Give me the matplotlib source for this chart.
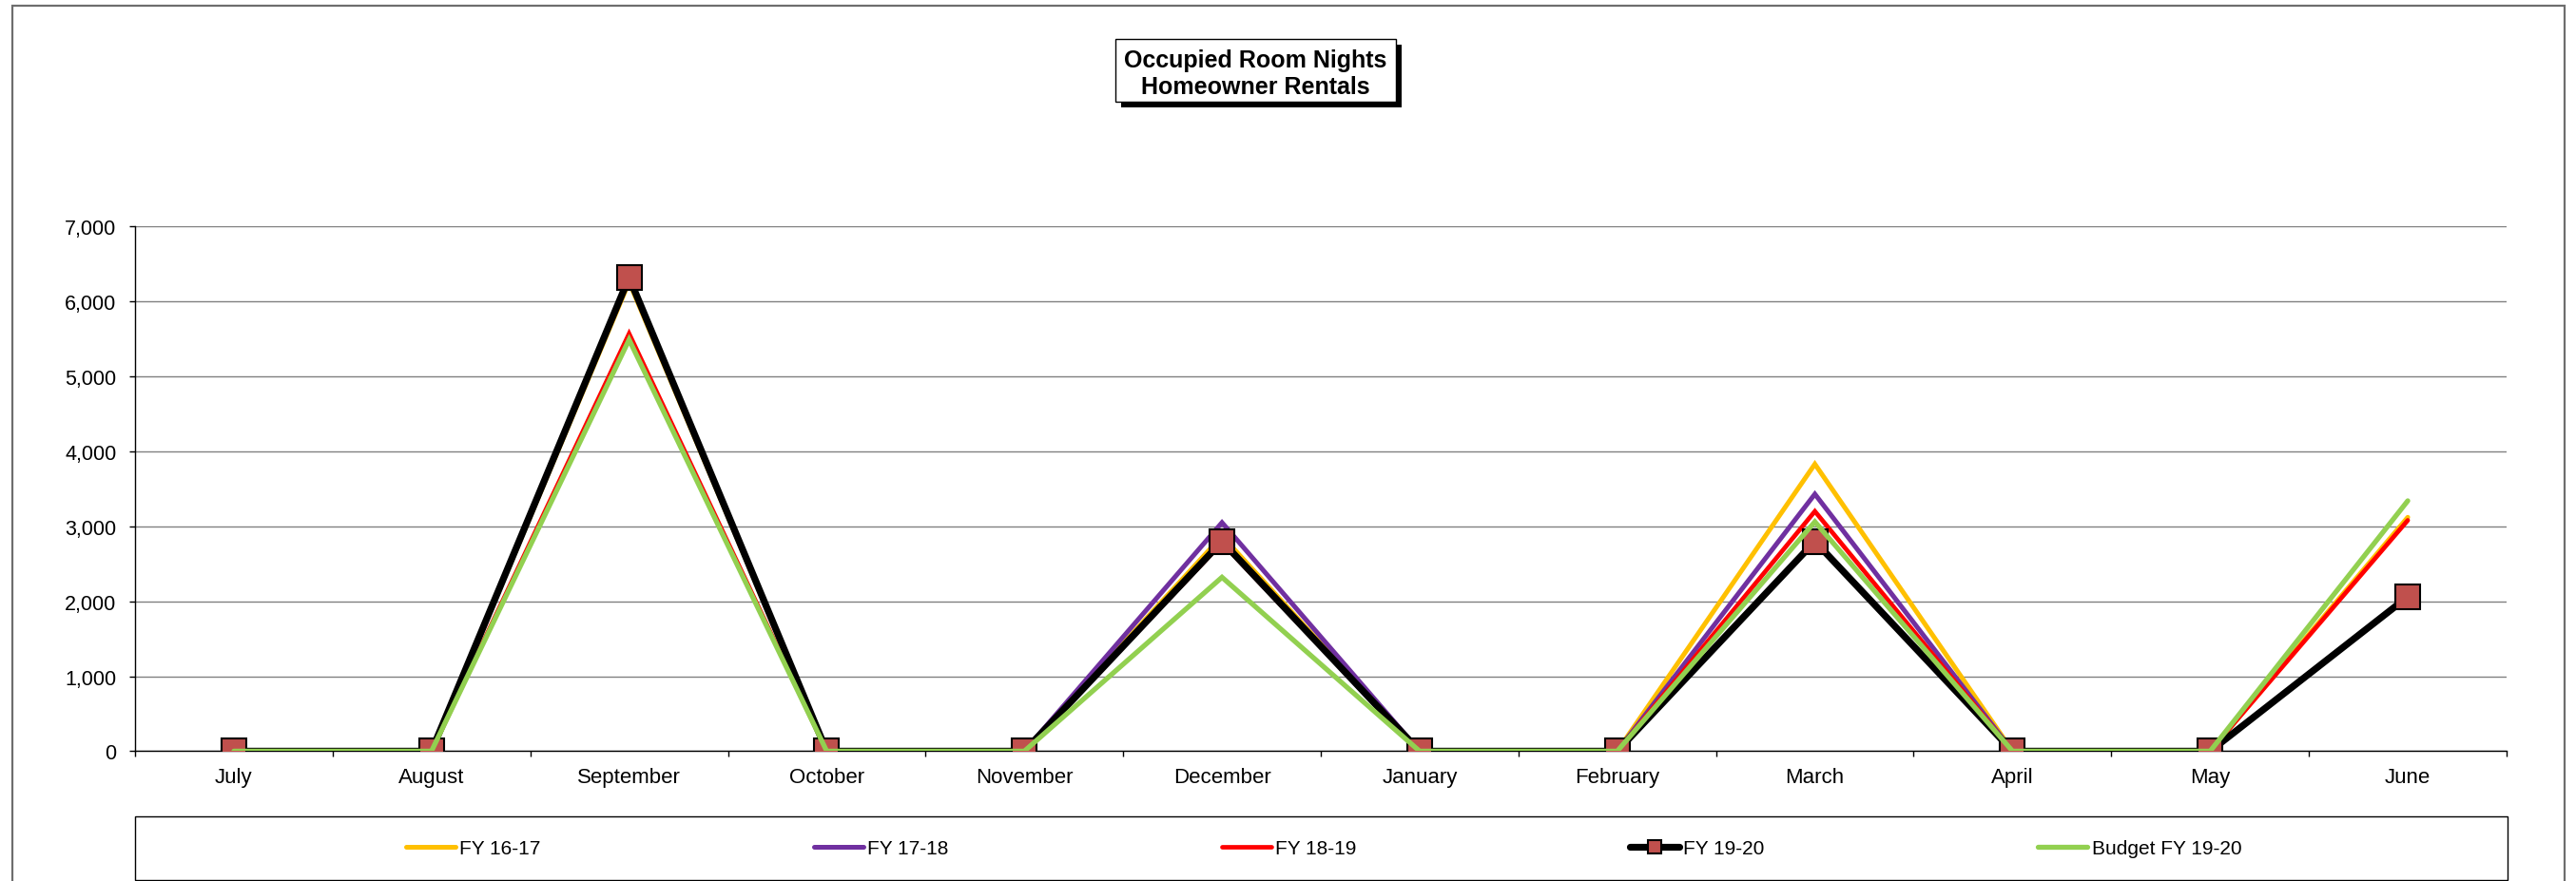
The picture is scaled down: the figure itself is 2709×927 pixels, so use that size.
import matplotlib
matplotlib.use('Agg')
import matplotlib.pyplot as plt
import numpy as np
from matplotlib.patches import Rectangle
from matplotlib.ticker import FuncFormatter, FixedLocator

# ---------------- data ----------------
months = ['July', 'August', 'September', 'October', 'November', 'December',
          'January', 'February', 'March', 'April', 'May', 'June']
fy1617 = [0, 0, 6260, 0, 0, 2870, 0, 0, 3830, 0, 0, 3120]
fy1718 = [0, 0, 6290, 0, 0, 3050, 0, 0, 3430, 0, 0, np.nan]
fy1819 = [0, 0, 5570, 0, 0, 2780, 0, 0, 3200, 0, 0, 3080]
fy1920 = [0, 0, 6320, 0, 0, 2800, 0, 0, 2800, 0, 0, 2060]
budget = [0, 0, 5490, 0, 0, 2320, 0, 0, 3060, 0, 0, 3340]
series_labels = ['FY 16-17', 'FY 17-18', 'FY 18-19', 'FY 19-20', 'Budget FY 19-20']
yticks = [0, 1000, 2000, 3000, 4000, 5000, 6000, 7000]
title_lines = ['Occupied Room Nights', 'Homeowner Rentals']

# ---------------- style ----------------
plt.rcParams['font.family'] = ['Liberation Sans', 'DejaVu Sans']
W, H = 2709, 928
fig = plt.figure(figsize=(W / 100, H / 100), dpi=100)


def fx(px):
    return px / W


def fy(py):
    return 1 - py / H


# outer chart border
fig.patches.append(Rectangle((fx(13), fy(940)), fx(2697) - fx(13), fy(7) - fy(940),
                             transform=fig.transFigure, fill=False,
                             edgecolor='#6e6e6e', linewidth=1.6, zorder=0))

left, right, top, bottom = 142, 2636, 239.3, 791.4
ax = fig.add_axes([fx(left), fy(bottom), fx(right) - fx(left), fy(top) - fy(bottom)])

x = np.arange(len(months)) + 0.5
common = dict(solid_joinstyle='miter', solid_capstyle='round')
ax.plot(x, fy1617, color='#FFC000', lw=3.6, label=series_labels[0], zorder=3, **common)
ax.plot(x, fy1718, color='#7030A0', lw=3.6, label=series_labels[1], zorder=4, **common)
ax.plot(x, fy1819, color='#FF0000', lw=3.4, label=series_labels[2], zorder=5, **common)
ax.plot(x, fy1920, color='black', lw=5.2, marker='s', markersize=18.5,
        markerfacecolor='#C0504D', markeredgecolor='black', markeredgewidth=1.5,
        label=series_labels[3], zorder=6, **common)
ax.plot(x, budget, color='#92D050', lw=3.8, label=series_labels[4], zorder=7, **common)

ax.set_xlim(0, len(months))
ax.set_ylim(0, 7000)
ax.set_yticks(yticks)
ax.yaxis.set_major_formatter(FuncFormatter(lambda v, p: f'{int(v):,}'))
ax.yaxis.grid(True, color='#808080', linewidth=1.0)
ax.set_axisbelow(True)

ax.xaxis.set_major_locator(FixedLocator(np.arange(len(months) + 1)))
ax.xaxis.set_minor_locator(FixedLocator(x))
ax.set_xticklabels([], minor=False)
ax.set_xticklabels(months, minor=True)
ax.tick_params(axis='x', which='major', direction='out', length=4, width=1, color='black')
ax.tick_params(axis='x', which='minor', length=0, pad=12, labelsize=16)
ax.tick_params(axis='y', direction='out', length=4, width=1, pad=10, labelsize=15.5)

for s in ['top', 'right']:
    ax.spines[s].set_visible(False)
for s in ['left', 'bottom']:
    ax.spines[s].set_color('black')
    ax.spines[s].set_linewidth(1.0)

# title box with shadow
fig.patches.append(Rectangle((fx(1179), fy(114)), fx(1474) - fx(1179), fy(48) - fy(114),
                             transform=fig.transFigure, facecolor='black',
                             edgecolor='black', linewidth=0, zorder=1))
fig.patches.append(Rectangle((fx(1173), fy(108)), fx(1468) - fx(1173), fy(42) - fy(108),
                             transform=fig.transFigure, facecolor='white',
                             edgecolor='black', linewidth=1.0, zorder=2))
fig.text(fx(1320), fy(78), '\n'.join(title_lines), ha='center', va='center',
         fontsize=18, fontweight='bold', linespacing=1.2, zorder=3)

# legend box
fig.patches.append(Rectangle((fx(142), fy(927)), fx(2637) - fx(142), fy(860) - fy(927),
                             transform=fig.transFigure, facecolor='white',
                             edgecolor='black', linewidth=1.0, zorder=1))
handles, labs = ax.get_legend_handles_labels()
leg = fig.legend(handles, labs, loc='center', bbox_to_anchor=(fx(1392), fy(893.5)),
                 ncol=5, frameon=False, fontsize=15, handlelength=2.5,
                 handletextpad=0.2, columnspacing=13.8, markerscale=0.55)
leg.set_zorder(5)

fig.savefig('out.png', dpi=100)
